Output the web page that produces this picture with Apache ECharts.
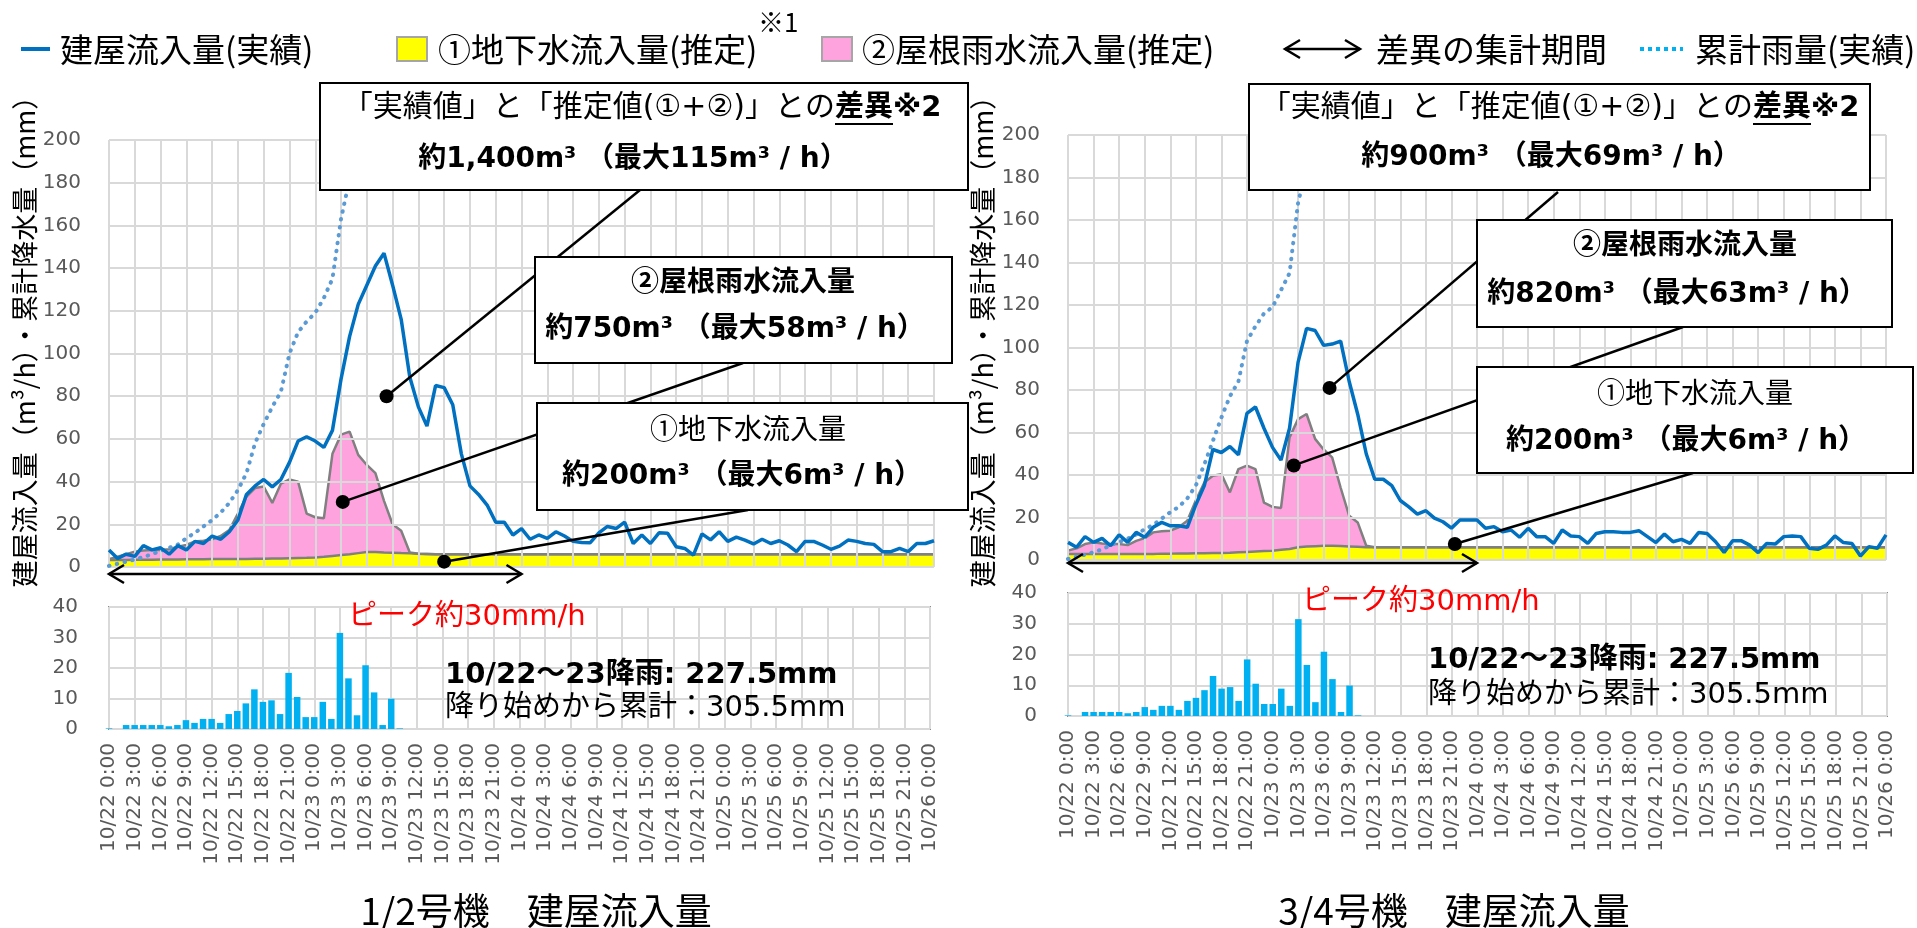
<!DOCTYPE html>
<html>
<head>
<meta charset="utf-8">
<script src="https://cdn.jsdelivr.net/npm/echarts@6/dist/echarts.min.js"></script>
<style>
  html, body { margin: 0; background: #fff; }
  #chart { width: 1917px; height: 928px; }
</style>
</head>
<body>
<div id="chart"></div>
<script>
// hourly labels 10/22 0:00 .. 10/26 0:00
var timeLabels = [];
for (var d = 22; d <= 26; d++) {
  for (var hr = 0; hr < 24; hr++) {
    if (d === 26 && hr > 0) break;
    timeLabels.push('10/' + d + ' ' + hr + ':00');
  }
}

// 1/2号機
var actual12 = [8, 4, 6, 5, 10, 8, 9, 6, 10, 8,
  12, 11, 14.5, 13, 16.5, 22, 34, 38, 41, 37.5,
  41, 49, 59, 61, 59, 56, 64, 88, 108, 123,
  132, 141, 147, 132, 116, 89, 75, 66, 85, 84,
  76, 53, 38, 34, 29, 21, 21, 15, 18, 13,
  15, 13.4, 16.5, 14.5, 12, 11.5, 11.4, 16, 19, 18,
  21, 11, 15, 11, 16, 15.8, 9.5, 8.7, 5.6, 15.5,
  12.7, 16.5, 12, 14, 12.6, 10.8, 13, 11, 12.3, 10.3,
  7.2, 12, 12, 10.3, 8.3, 9.8, 12.6, 12, 11, 10.6,
  7.2, 7.2, 8.7, 7.2, 11, 11, 12.3];
var ground12 = [3.3, 3.3, 3.3, 3.4, 3.4, 3.4, 3.5, 3.5, 3.5, 3.6,
  3.6, 3.6, 3.7, 3.7, 3.7, 3.8, 3.8, 3.9, 3.9, 4,
  4, 4.1, 4.2, 4.3, 4.5, 4.8, 5.2, 5.6, 6, 6.5,
  7, 7, 6.8, 6.7, 6.5, 6.4, 6.2, 6.1, 6, 6,
  6, 6, 6, 6, 6, 6, 6, 6, 6, 6,
  6, 6, 6, 6, 6, 6, 6, 6, 6, 6,
  6, 6, 6, 6, 6, 6, 6, 6, 6, 6,
  6, 6, 6, 6, 6, 6, 6, 6, 6, 6,
  6, 6, 6, 6, 6, 6, 6, 6, 6, 6,
  6, 6, 6, 6, 6, 6, 6];
var roof12 = [0.3, 1.5, 2.7, 3.8, 4.3, 4.6, 4.5, 4.8, 6, 6.7,
  8.4, 8.7, 9.3, 10.8, 13.6, 21.2, 29.2, 33.1, 33.8, 26,
  35, 36.9, 35.8, 20.7, 18.8, 18, 47.8, 56.4, 57.4, 46,
  40.8, 37, 24.2, 13.3, 10.5, 0.4, 0, 0, 0, 0,
  0, 0, 0, 0, 0, 0, 0, 0, 0, 0,
  0, 0, 0, 0, 0, 0, 0, 0, 0, 0,
  0, 0, 0, 0, 0, 0, 0, 0, 0, 0,
  0, 0, 0, 0, 0, 0, 0, 0, 0, 0,
  0, 0, 0, 0, 0, 0, 0, 0, 0, 0,
  0, 0, 0, 0, 0, 0, 0];
var cumRain12 = [0.5, 1.5, 2.5, 3.5, 4.7, 6, 7.5, 9, 10.5, 13.5,
  16, 19, 22, 25.5, 30, 36, 44, 58, 67, 75,
  82, 100, 110, 115, 119, 126, 135, 163, 182, 186,
  207, 219, 220, 230, 230, 230, 230, 230, 230, 230,
  230, 230, 230, 230, 230, 230, 230, 230, 230, 230,
  230, 230, 230, 230, 230, 230, 230, 230, 230, 230,
  230, 230, 230, 230, 230, 230, 230, 230, 230, 230,
  230, 230, 230, 230, 230, 230, 230, 230, 230, 230,
  230, 230, 230, 230, 230, 230, 230, 230, 230, 230,
  230, 230, 230, 230, 230, 230, 230];

// 3/4号機
var actual34 = [8.3, 6, 11, 8.3, 10.2, 6.7, 11.9, 8.3, 13, 10.7,
  15.4, 17.7, 16.1, 16.1, 15.4, 26, 35, 52, 50.6, 53.4,
  49.5, 69, 72, 62, 53, 47, 62, 93, 109, 108,
  101, 101.6, 103, 84, 68.6, 50, 38, 38, 35, 28,
  25, 21.6, 23.2, 19.7, 18, 15, 18.8, 18.8, 18.8, 14.9,
  15.7, 13.3, 14.1, 10.7, 14.9, 11, 11, 7.8, 14.1, 11.3,
  11, 7.8, 12.5, 13.3, 13.3, 13, 13, 13.8, 11, 8.2,
  12.2, 8.6, 9.7, 7.8, 12.9, 12.5, 8.6, 3.6, 9.1, 9.1,
  7, 3.5, 7.8, 7.5, 11, 11.3, 11, 5.5, 5, 7,
  11.3, 8.2, 7.8, 1.9, 6.3, 5.5, 11.8];
var ground34 = [2.8, 2.8, 2.8, 2.8, 2.8, 2.8, 2.8, 2.8, 2.8, 2.8,
  2.8, 3, 3, 3.1, 3.1, 3.2, 3.2, 3.3, 3.3, 3.4,
  3.6, 3.8, 4, 4.2, 4.4, 4.8, 5.2, 6, 6.3, 6.5,
  6.7, 6.7, 6.6, 6.4, 6.2, 6, 6, 6, 6, 6,
  6, 6, 6, 6, 6, 6, 6, 6, 6, 6,
  6, 6, 6, 6, 6, 6, 6, 6, 6, 6,
  6, 6, 6, 6, 6, 6, 6, 6, 6, 6,
  6, 6, 6, 6, 6, 6, 6, 6, 6, 6,
  6, 6, 6, 6, 6, 6, 6, 6, 6, 6,
  6, 6, 6, 6, 6, 6, 6];
var roof34 = [1.6, 2.7, 4.7, 5.5, 5, 4.7, 4.7, 4.2, 6.2, 7.5,
  10.2, 10.5, 10.8, 12.3, 15.4, 24.8, 33.3, 36.3, 37.1, 28.4,
  39.2, 40.6, 38.8, 22.8, 20.6, 19.7, 52.5, 60.3, 62.4, 50.5,
  45.3, 41.6, 27.4, 14.4, 11.5, 0.7, 0, 0, 0, 0,
  0, 0, 0, 0, 0, 0, 0, 0, 0, 0,
  0, 0, 0, 0, 0, 0, 0, 0, 0, 0,
  0, 0, 0, 0, 0, 0, 0, 0, 0, 0,
  0, 0, 0, 0, 0, 0, 0, 0, 0, 0,
  0, 0, 0, 0, 0, 0, 0, 0, 0, 0,
  0, 0, 0, 0, 0, 0, 0];
var cumRain34 = [0.5, 1.5, 2.5, 3.7, 5, 7, 8.5, 10, 12, 14.5,
  16.5, 19.5, 22.5, 25, 29, 35, 45, 56, 67, 77,
  84, 103, 110, 116, 119, 127, 135, 168, 185, 189,
  210, 222, 223, 233, 233, 233, 233, 233, 233, 233,
  233, 233, 233, 233, 233, 233, 233, 233, 233, 233,
  233, 233, 233, 233, 233, 233, 233, 233, 233, 233,
  233, 233, 233, 233, 233, 233, 233, 233, 233, 233,
  233, 233, 233, 233, 233, 233, 233, 233, 233, 233,
  233, 233, 233, 233, 233, 233, 233, 233, 233, 233,
  233, 233, 233, 233, 233, 233, 233];

// 時間雨量 (mm/h), both panels
var rain = [0.2, 0, 1.3, 1.3, 1.3, 1.3, 1.3, 0.9, 1.3, 2.9,
  2, 3.3, 3.3, 2, 4.9, 5.9, 8.4, 13, 8.9, 9.4,
  4.9, 18.4, 10.5, 3.9, 3.9, 8.9, 3.3, 31.5, 16.6, 4.5,
  20.9, 12, 1.3, 9.9, 0.2, 0, 0, 0, 0, 0,
  0, 0, 0, 0, 0, 0, 0, 0, 0, 0,
  0, 0, 0, 0, 0, 0, 0, 0, 0, 0,
  0, 0, 0, 0, 0, 0, 0, 0, 0, 0,
  0, 0, 0, 0, 0, 0, 0, 0, 0, 0,
  0, 0, 0, 0, 0, 0, 0, 0, 0, 0,
  0, 0, 0, 0, 0, 0, 0];

var topTicks = [0, 20, 40, 60, 80, 100, 120, 140, 160, 180, 200];
var barTicks = [0, 10, 20, 30, 40];

var FN = '"DejaVu Sans", "Noto Sans CJK JP"';
var JP = '"Noto Sans CJK JP"';

function toXY(arr) {
  return arr.map(function (v, i) { return [i, v]; });
}
// ①+② (estimated total) for the pink area top
function addUp(a, b) {
  return a.map(function (v, i) { return [i, Math.round((v + b[i]) * 10) / 10]; });
}

var tickFont = { fontFamily: 'DejaVu Sans', fontSize: 20, color: '#595959' };
var gridLine = { show: true, lineStyle: { color: '#d9d9d9', width: 2 } };

function xAxisTop(gi) {
  return {
    type: 'value', gridIndex: gi, min: 0, max: timeLabels.length - 1, interval: 3,
    axisLine: { show: false }, axisTick: { show: false }, axisLabel: { show: false },
    splitLine: gridLine
  };
}
function xAxisBar(gi) {
  return {
    type: 'value', gridIndex: gi, min: 0, max: timeLabels.length - 1, interval: 3,
    axisLine: { show: false }, axisTick: { show: false },
    axisLabel: Object.assign({ rotate: 90, margin: 14, formatter: function (v) { return timeLabels[v]; } }, tickFont),
    splitLine: gridLine
  };
}
function yAxisTop(gi) {
  return {
    type: 'value', gridIndex: gi, min: topTicks[0], max: topTicks[topTicks.length - 1], interval: 20,
    axisLine: { show: false }, axisTick: { show: false },
    axisLabel: Object.assign({ margin: 28 }, tickFont),
    splitLine: gridLine
  };
}
function yAxisBar(gi) {
  return {
    type: 'value', gridIndex: gi, min: barTicks[0], max: barTicks[barTicks.length - 1], interval: 10,
    axisLine: { show: false }, axisTick: { show: false },
    axisLabel: Object.assign({ margin: 31 }, tickFont),
    splitLine: gridLine
  };
}

function panelSeries(gi, ground, roof, cum, actual) {
  return [
    {
      name: '②屋根雨水流入量(推定)', type: 'line', xAxisIndex: gi, yAxisIndex: gi,
      data: addUp(ground, roof), symbol: 'none', z: -1,
      lineStyle: { color: '#808080', width: 2.5 },
      areaStyle: { color: '#ffa3df', opacity: 1 }
    },
    {
      name: '①地下水流入量(推定)', type: 'line', xAxisIndex: gi, yAxisIndex: gi,
      data: toXY(ground), symbol: 'none', z: -1,
      lineStyle: { color: '#808080', width: 2.5 },
      areaStyle: { color: '#ffff00', opacity: 1 }
    },
    {
      name: '累計雨量(実績)', type: 'line', xAxisIndex: gi, yAxisIndex: gi,
      data: toXY(cum), symbol: 'none',
      lineStyle: { color: '#5b9bd5', width: 4, type: [0.5, 7.5], cap: 'round' }
    },
    {
      name: '建屋流入量(実績)', type: 'line', xAxisIndex: gi, yAxisIndex: gi,
      data: toXY(actual), symbol: 'none',
      lineStyle: { color: '#0070c0', width: 3.5 }
    }
  ];
}
function rainSeries(gi) {
  return {
    name: '時間雨量', type: 'bar', xAxisIndex: gi, yAxisIndex: gi,
    data: toXY(rain), barWidth: 6.5, itemStyle: { color: '#00b0f0' }
  };
}

var chart = echarts.init(document.getElementById('chart'));
chart.setOption({
  animation: false,
  grid: [
    { left: 109, top: 140, width: 825, height: 427 },
    { left: 109, top: 607, width: 821, height: 122, show: true, borderColor: '#8c8c8c', borderWidth: 2 },
    { left: 1068, top: 135, width: 818, height: 425 },
    { left: 1068, top: 593, width: 819, height: 123, show: true, borderColor: '#8c8c8c', borderWidth: 2 }
  ],
  xAxis: [xAxisTop(0), xAxisBar(1), xAxisTop(2), xAxisBar(3)],
  yAxis: [yAxisTop(0), yAxisBar(1), yAxisTop(2), yAxisBar(3)],
  series: [].concat(
    panelSeries(0, ground12, roof12, cumRain12, actual12),
    [rainSeries(1)],
    panelSeries(2, ground34, roof34, cumRain34, actual34),
    [rainSeries(3)]
  )
});

// ---- annotations ----
function P(g, x, y) { return chart.convertToPixel({ gridIndex: g }, [x, y]); }
function T(x, y, text, font, align, extra, color) {
  var a = align || 'center';
  return Object.assign({
    type: 'text', x: x, y: y, z: 102,
    style: { text: text, font: font, fill: color || '#000', align: a, textAlign: a, verticalAlign: 'middle', textVerticalAlign: 'middle' }
  }, extra || {});
}
function L(x1, y1, x2, y2, color, w, extra) {
  return Object.assign({
    type: 'line', z: 100, shape: { x1: x1, y1: y1, x2: x2, y2: y2 },
    style: { stroke: color || '#000', lineWidth: w || 2.5 }
  }, extra || {});
}
function box(x, y, w, h) {
  return { type: 'rect', z: 101, shape: { x: x, y: y, width: w, height: h }, style: { fill: '#fff', stroke: '#000', lineWidth: 2 } };
}
function dot(p) {
  return { type: 'circle', z: 103, shape: { cx: p[0], cy: p[1], r: 7 }, style: { fill: '#000' } };
}
function dblArrow(x0, x1, y) {
  var st = { stroke: '#000', lineWidth: 2.5, fill: null };
  return [
    L(x0, y, x1, y, '#000', 2.5),
    { type: 'polyline', z: 100, shape: { points: [[x0 + 15, y - 9], [x0, y], [x0 + 15, y + 9]] }, style: st },
    { type: 'polyline', z: 100, shape: { points: [[x1 - 15, y - 9], [x1, y], [x1 - 15, y + 9]] }, style: st }
  ];
}

var g = [];
var bold28 = 'bold 28px ' + FN, norm30 = '30px ' + FN;

var panels = [
  {
    gi: 0, arrowDy: 7,
    boxA: [320, 83, 648, 107], boxB: [535, 257, 417, 106], boxC: [537, 403, 431, 107],
    anchorA: [640, 190], anchorB: [743, 363], anchorC: [748, 510],
    dotA: [32.3, 80], dotB: [27.2, 30.5], dotC: [39, 2.5],
    splitX: 835, line1Y: 108, line2: [633, 160, '約1,400m³ （最大115m³ / h）'],
    roofT: [743, 280], roofV: [735, 330, '約750m³ （最大58m³ / h）'],
    gwT: [748, 428], gwV: [742, 477, '約200m³ （最大6m³ / h）'],
    peak: [348, 617], sum1: [445, 675], sum2: [445, 708],
    title: [536, 911, '1/2号機　建屋流入量'], yName: [25, 335]
  },
  {
    gi: 2, arrowDy: 3,
    boxA: [1249, 84, 621, 106], boxB: [1477, 220, 415, 107], boxC: [1477, 367, 436, 106],
    anchorA: [1558, 192], anchorB: [1683, 327], anchorC: [1693, 473],
    dotA: [30.7, 81], dotB: [26.5, 44.5], dotC: [45.4, 7.5],
    splitX: 1753, line1Y: 108, line2: [1551, 158, '約900m³ （最大69m³ / h）'],
    roofT: [1685, 243], roofV: [1677, 295, '約820m³ （最大63m³ / h）'],
    gwT: [1695, 392], gwV: [1686, 442, '約200m³ （最大6m³ / h）'],
    peak: [1302, 602], sum1: [1428, 660], sum2: [1428, 695],
    title: [1454, 911, '3/4号機　建屋流入量'], yName: [983, 335]
  }
];

panels.forEach(function (p) {
  var dA = P(p.gi, p.dotA[0], p.dotA[1]);
  var dB = P(p.gi, p.dotB[0], p.dotB[1]);
  var dC = P(p.gi, p.dotC[0], p.dotC[1]);
  g.push(L(p.anchorA[0], p.anchorA[1], dA[0], dA[1]));
  g.push(L(p.anchorB[0], p.anchorB[1], dB[0], dB[1]));
  g.push(L(p.anchorC[0], p.anchorC[1], dC[0], dC[1]));
  g.push(box.apply(null, p.boxA), box.apply(null, p.boxB), box.apply(null, p.boxC));
  g.push(dot(dA), dot(dB), dot(dC));

  g.push(T(p.splitX, p.line1Y, '「実績値」と「推定値(①+②)」との', norm30, 'right'));
  g.push(T(p.splitX, p.line1Y, '差異※2', 'bold 29px ' + FN, 'left'));
  g.push(L(p.splitX, p.line1Y + 16, p.splitX + 58, p.line1Y + 16, '#000', 2, { z: 103 }));
  g.push(T(p.line2[0], p.line2[1], p.line2[2], bold28));
  g.push(T(p.roofT[0], p.roofT[1], '②屋根雨水流入量', 'bold 28px ' + JP));
  g.push(T(p.roofV[0], p.roofV[1], p.roofV[2], bold28));
  g.push(T(p.gwT[0], p.gwT[1], '①地下水流入量', '28px ' + JP));
  g.push(T(p.gwV[0], p.gwV[1], p.gwV[2], bold28));

  // 差異の集計期間 arrow (0:00 .. 48h)
  var a0 = P(p.gi, 0, 0), a1 = P(p.gi, 48, 0);
  dblArrow(a0[0], a1[0], a0[1] + p.arrowDy).forEach(function (e) { g.push(e); });

  g.push(T(p.peak[0], p.peak[1], 'ピーク約30mm/h', '29px ' + FN, 'left', null, '#ff0000'));
  g.push(T(p.sum1[0], p.sum1[1], '10/22～23降雨: 227.5mm', 'bold 29px ' + FN, 'left'));
  g.push(T(p.sum2[0], p.sum2[1], '降り始めから累計：305.5mm', '29px ' + FN, 'left'));
  g.push(T(p.title[0], p.title[1], p.title[2], '37px ' + JP));
  g.push(T(p.yName[0], p.yName[1], '建屋流入量（m³/h）・累計降水量（mm）', '27px ' + JP, 'center', { rotation: Math.PI / 2 }));
});

// legend
var LY = 49, LF = '33px ' + JP;
g.push(L(21, LY, 50, LY, '#0070c0', 4));
g.push(T(60, LY, '建屋流入量(実績)', LF, 'left'));
g.push({ type: 'rect', z: 101, shape: { x: 397, y: LY - 12, width: 30, height: 24 }, style: { fill: '#ffff00', stroke: '#a6a6a6', lineWidth: 2 } });
g.push(T(438, LY, '①地下水流入量(推定)', LF, 'left'));
g.push(T(758, 22, '※1', '26px ' + JP, 'left'));
g.push({ type: 'rect', z: 101, shape: { x: 822, y: LY - 12, width: 30, height: 24 }, style: { fill: '#ffa3df', stroke: '#a6a6a6', lineWidth: 2 } });
g.push(T(862, LY, '②屋根雨水流入量(推定)', LF, 'left'));
dblArrow(1285, 1360, LY).forEach(function (e) { g.push(e); });
g.push(T(1376, LY, '差異の集計期間', LF, 'left'));
g.push(L(1640, LY, 1683, LY, '#00b0f0', 4, { style: { stroke: '#00b0f0', lineWidth: 4, lineDash: [4, 4] } }));
g.push(T(1695, LY, '累計雨量(実績)', LF, 'left'));

chart.setOption({ graphic: { elements: g } });
</script>
</body>
</html>
